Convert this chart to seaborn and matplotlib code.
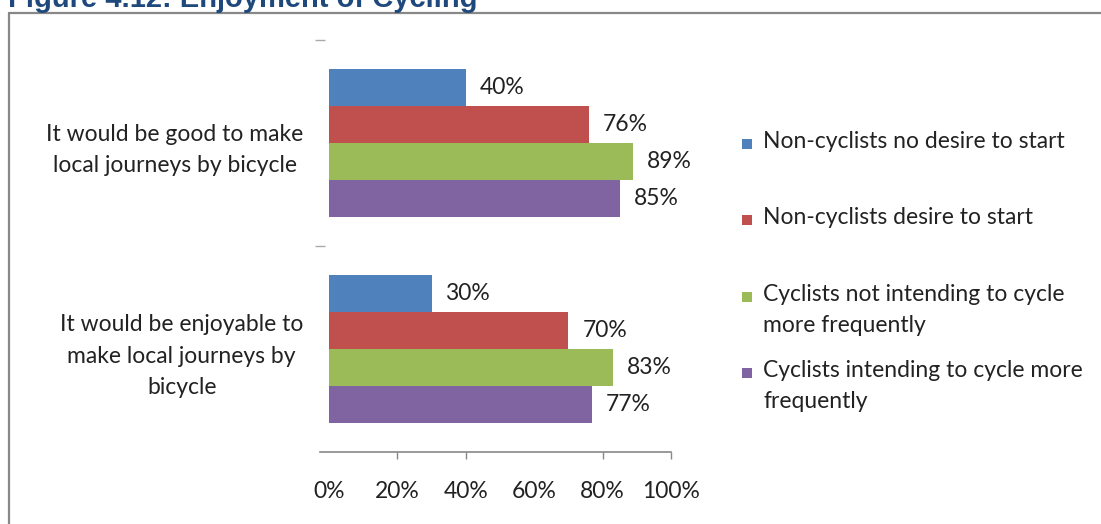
import pandas as pd
import numpy as np
import matplotlib.pyplot as plt
import seaborn as sns
from matplotlib.patches import Rectangle
from matplotlib.lines import Line2D

# 数据
statements = ["It would be good to make\nlocal journeys by bicycle",
              "It would be enjoyable to\nmake local journeys by\nbicycle"]
groups = ["Non-cyclists no desire to start",
          "Non-cyclists desire to start",
          "Cyclists not intending to cycle\nmore frequently",
          "Cyclists intending to cycle more\nfrequently"]
no_desire = [40, 30]
desire = [76, 70]
not_intending = [89, 83]
intending = [85, 77]
x_ticks = [0, 20, 40, 60, 80, 100]
x_tick_labels = ["0%", "20%", "40%", "60%", "80%", "100%"]
colors = ["#4F81BD", "#C0504D", "#9BBB59", "#8064A2"]

W, H = 1101, 524
FS = 16.5

def px(x, y):
    return x / W, 1 - y / H

sns.set_style("white")
plt.rcParams['font.family'] = ['Lato', 'DejaVu Sans']

df = pd.DataFrame({
    'statement': statements * 4,
    'group': np.repeat(groups, 2),
    'pct': no_desire + desire + not_intending + intending,
})

fig = plt.figure(figsize=(W / 100, H / 100), dpi=100)
ax = fig.add_axes([320 / W, (H - 452) / H, 351 / W, 412 / H])

sns.barplot(data=df, x='pct', y='statement', hue='group', hue_order=groups,
            order=statements, palette=colors, saturation=1, width=0.715,
            orient='h', linewidth=0, legend=False, ax=ax)

# 数据标签
for cont in ax.containers:
    ax.bar_label(cont, labels=[f"{v:.0f}%" for v in cont.datavalues],
                 padding=10, fontsize=FS, color='#222222')

ax.set_xlim(-2.6, 100)
ax.set_ylim(1.5, -0.5)
ax.set_xlabel('')
ax.set_ylabel('')

# x 轴
ax.set_xticks(x_ticks)
ax.set_xticklabels(x_tick_labels, fontsize=FS, color='#222222')
ax.tick_params(axis='x', bottom=True, direction='out', length=5, width=1,
               color='#888888', pad=16)
for i, t in enumerate(ax.xaxis.get_major_ticks()):
    if x_ticks[i] in (0, 60):
        t.tick1line.set_visible(False)

# y 轴
ax.set_yticks([0, 1])
ax.set_yticklabels(statements, fontsize=FS, color='#222222',
                   multialignment='center', linespacing=1.6)
ax.tick_params(axis='y', left=True, length=0, pad=12)
ax.set_yticks([-0.5, 0.5], minor=True)
ax.tick_params(axis='y', which='minor', left=True, direction='inout', length=7,
               width=1, color='#aaaaaa')

for s in ['top', 'right', 'left']:
    ax.spines[s].set_visible(False)
ax.spines['bottom'].set_color('#888888')
ax.spines['bottom'].set_linewidth(1.2)

# 图例（手动摆放）
legend_y = [144, 220, 297, 373]
for g, c, y in zip(groups, colors, legend_y):
    x0, y0 = px(742, y + 5)
    fig.add_artist(Rectangle((x0, y0), 10 / W, 10 / H, transform=fig.transFigure,
                             facecolor=c, edgecolor='none'))
    tx, ty = px(763, y - 13)
    fig.text(tx, ty, g, fontsize=FS, color='#222222', va='top', ha='left',
             linespacing=1.6)

# 外框
fig.add_artist(Line2D([9 / W, 9 / W], [-0.1, 1 - 12.5 / H], transform=fig.transFigure,
                      color='#888888', linewidth=1.6))
fig.add_artist(Line2D([9 / W, 1.1], [1 - 12.5 / H, 1 - 12.5 / H], transform=fig.transFigure,
                      color='#888888', linewidth=1.6))

# 标题（上半部分被裁掉）
tx, ty = px(8, 7)
fig.text(tx, ty, "Figure 4.12: Enjoyment of Cycling", family=['Liberation Sans', 'DejaVu Sans'],
         fontsize=21, fontweight='bold', color='#1F497D', va='baseline', ha='left')

fig.savefig('out.png', dpi=100)
